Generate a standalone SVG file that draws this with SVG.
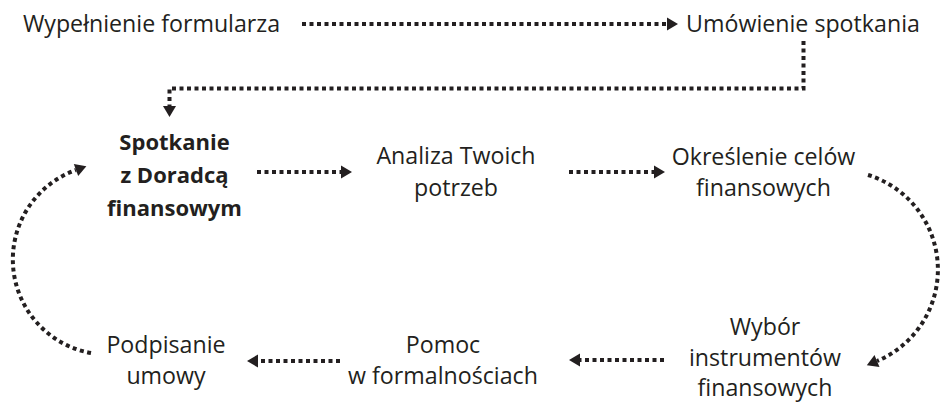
<svg xmlns="http://www.w3.org/2000/svg" width="944" height="402" viewBox="0 0 944 402">
<style>
text{font-family:"Open Sans","Noto Sans",sans-serif;font-size:23.2px;fill:#231f20;text-anchor:middle}
.b{font-weight:bold;font-size:22px}
.c{fill:none;stroke:#231f20;stroke-width:4;stroke-dasharray:4 3.5}
</style>
<defs>
<marker id="ah" markerUnits="userSpaceOnUse" markerWidth="14" markerHeight="14" refX="0" refY="7" orient="auto" overflow="visible">
<path d="M0,0.5 L11,7 L0,13.5 Z" fill="#231f20"/>
</marker>
</defs>
<rect width="944" height="402" fill="#fff"/>
<g id="connectors">
<path class="c" d="M302,24 H667" marker-end="url(#ah)"/>
<path class="c" d="M803.5,41 V88.5 H169.5 V106" marker-end="url(#ah)"/>
<path class="c" d="M257,172 H341" marker-end="url(#ah)"/>
<path class="c" d="M569,172 H654" marker-end="url(#ah)"/>
<path class="c" d="M868,175 A99,99 0 0 1 877,361" marker-end="url(#ah)"/>
<path class="c" d="M664,360 H580" marker-end="url(#ah)"/>
<path class="c" d="M340,361 H258" marker-end="url(#ah)"/>
<path class="c" d="M91,353 A95,95 0 0 1 76,170" marker-end="url(#ah)"/>
</g>
<g id="n1"><text x="151.5" y="32">Wypełnienie formularza</text></g>
<g id="n2"><text x="803" y="32">Umówienie spotkania</text></g>
<g id="n3"><text class="b" x="174.5" y="150">Spotkanie</text><text class="b" x="174.5" y="183">z Doradcą</text><text class="b" x="174.5" y="216">finansowym</text></g>
<g id="n4"><text x="456" y="164">Analiza Twoich</text><text x="456" y="196">potrzeb</text></g>
<g id="n5"><text x="763.5" y="165">Określenie celów</text><text x="763.5" y="196">finansowych</text></g>
<g id="n6"><text x="765" y="335">Wybór</text><text x="765" y="366">instrumentów</text><text x="765" y="396">finansowych</text></g>
<g id="n7"><text x="443" y="353">Pomoc</text><text x="443" y="384">w formalnościach</text></g>
<g id="n8"><text x="166" y="353">Podpisanie</text><text x="166" y="384">umowy</text></g>
</svg>
